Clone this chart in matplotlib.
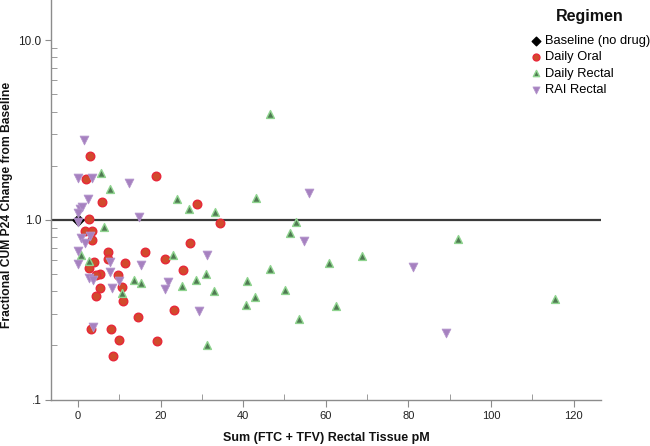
import matplotlib
matplotlib.use("Agg")
import matplotlib.pyplot as plt
from matplotlib.ticker import FixedLocator, FixedFormatter, LogLocator, NullFormatter

plt.rcParams['font.family'] = ['Liberation Sans', 'DejaVu Sans']

# ---------------- data ----------------
baseline_x = [0.0]
baseline_y = [1.0]

oral_x = [2.83, 1.94, 18.9, 5.74, 2.66, 1.69, 3.47, 3.47, 7.34, 7.4, 16.2, 27.2, 34.4, 28.8,
          21.1, 3.95, 2.66, 11.3, 25.4, 5.33, 4.5, 9.76, 5.33, 10.7, 4.5, 11.0, 23.2, 14.45,
          3.07, 7.9, 10.0, 19.05, 8.47]
oral_y = [2.27, 1.68, 1.75, 1.25, 1.01, 0.869, 0.861, 0.774, 0.664, 0.607, 0.662, 0.742, 0.955, 1.22,
          0.607, 0.582, 0.539, 0.572, 0.527, 0.50, 0.495, 0.495, 0.415, 0.423, 0.378, 0.355, 0.315, 0.287,
          0.247, 0.246, 0.215, 0.211, 0.174]

rectal_x = [5.65, 7.75, 6.37, 0.65, 23.1, 2.74, 30.9, 28.6, 40.9, 13.56, 15.4, 25.3, 10.8, 32.9,
            42.9, 40.8, 31.2, 24.0, 26.9, 33.2, 43.0, 46.6, 50.2, 52.7, 51.3, 68.7, 60.8, 62.4,
            53.6, 46.5, 92.0, 115.4]
rectal_y = [1.82, 1.48, 0.906, 0.639, 0.639, 0.587, 0.499, 0.462, 0.456, 0.46, 0.445, 0.43, 0.391, 0.40,
            0.372, 0.337, 0.20, 1.31, 1.15, 1.11, 1.33, 0.534, 0.405, 0.975, 0.843, 0.625, 0.575, 0.33,
            0.282, 3.88, 0.784, 0.363]

rai_x = [1.45, 0.08, 3.47, 12.35, 2.42, 0.5, 0.9, 0.1, 0.08, 14.85, 2.9, 0.65, 1.69, 0.08, 31.2,
         0.08, 7.75, 15.25, 7.75, 2.74, 3.7, 10.0, 21.8, 21.1, 8.15, 29.4, 3.55, 55.9, 54.7, 81.0, 89.1]
rai_y = [2.78, 1.71, 1.71, 1.61, 1.30, 1.15, 1.18, 1.09, 0.966, 1.035, 0.815, 0.791, 0.739, 0.667, 0.639,
         0.567, 0.579, 0.562, 0.513, 0.474, 0.464, 0.454, 0.45, 0.414, 0.417, 0.309, 0.253, 1.41, 0.758,
         0.546, 0.235]

series_names = ["Baseline (no drug)", "Daily Oral", "Daily Rectal", "RAI Rectal"]
ref_line_y = 1.0

xticks_major = [0, 20, 40, 60, 80, 100, 120]
xticks_minor = [10, 30, 50, 70, 90, 110]
yticks_major = [0.1, 1.0, 10.0]
ytick_labels = [".1", "1.0", "10.0"]

x_label = "Sum (FTC + TFV) Rectal Tissue pM"
y_label = "Fractional CUM P24 Change from Baseline"
legend_title = "Regimen"

# ---------------- plot ----------------
W, H = 650, 446
fig = plt.figure(figsize=(6.5, 4.46), dpi=100)
ax = fig.add_axes([51/W, 1 - 399.5/H, (601 - 51)/W, 399.5/H])

ax.set_yscale('log')
ax.set_xlim(-6.5, 126.6)
ax.set_ylim(0.1, 16.7)

ax.axhline(ref_line_y, color='#3a3a3a', lw=1.6, zorder=1)

h_base = ax.scatter(baseline_x, baseline_y, marker='D', s=30, c='#000000', zorder=3,
                    label=series_names[0])
h_oral = ax.scatter(oral_x, oral_y, marker='o', s=38, facecolor='#d24a2c', edgecolor='#e8283a',
                    linewidths=1.0, zorder=3, label=series_names[1])
h_rect = ax.scatter(rectal_x, rectal_y, marker='^', s=32, facecolor='#4f7a52', edgecolor='#8fd48f',
                    linewidths=1.0, zorder=3, label=series_names[2])
h_rai = ax.scatter(rai_x, rai_y, marker='v', s=40, facecolor='#a681c0', edgecolor='#b495cc',
                   linewidths=0.6, zorder=3, label=series_names[3])

for s in ['top', 'right']:
    ax.spines[s].set_visible(False)
for s in ['left', 'bottom']:
    ax.spines[s].set_color('#8c8c8c')
    ax.spines[s].set_linewidth(1.0)

ax.xaxis.set_major_locator(FixedLocator(xticks_major))
ax.xaxis.set_minor_locator(FixedLocator(xticks_minor))
ax.tick_params(axis='x', which='major', direction='out', length=5, color='#8c8c8c',
               labelsize=8, labelcolor='#222222', pad=3)
ax.tick_params(axis='x', which='minor', direction='in', length=4, color='#8c8c8c')

ax.yaxis.set_major_locator(FixedLocator(yticks_major))
ax.yaxis.set_major_formatter(FixedFormatter(ytick_labels))
ax.yaxis.set_minor_locator(LogLocator(base=10, subs=[2, 3, 4, 5, 6, 7, 8, 9]))
ax.yaxis.set_minor_formatter(NullFormatter())
ax.tick_params(axis='y', which='major', direction='out', length=4, color='#8c8c8c',
               labelsize=8.5, labelcolor='#222222', pad=3)
ax.tick_params(axis='y', which='minor', direction='in', length=4, color='#8c8c8c')

ax.set_xlabel(x_label, fontsize=9, fontweight='bold', color='#111111', labelpad=8)
ax.set_ylabel(y_label, fontsize=8.7, fontweight='bold', color='#111111', va='center')
ax.yaxis.set_label_coords(-44/550, 1 - 205/399.5)

fig.text(590/W, 1 - 16/H, legend_title, fontsize=11.5, fontweight='bold',
         ha='center', va='center', color='#111111')
leg = fig.legend(handles=[h_base, h_oral, h_rect, h_rai], loc='upper left',
                 bbox_to_anchor=(528/W, 1 - 35/H), frameon=False,
                 fontsize=9.3, handletextpad=0.15, labelspacing=0.33, markerscale=0.8,
                 handlelength=1.2, borderaxespad=0, borderpad=0)

fig.savefig('out.png', dpi=100)
